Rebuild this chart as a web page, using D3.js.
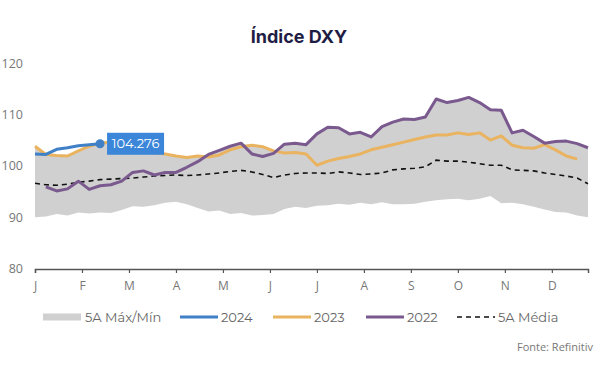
<html lang="pt-BR">
	<head>
		<title>Indice DXY</title>
		<script src='https://d3js.org/d3.v7.min.js'></script>
		<style>
			body { margin: 0; background: #ffffff; }
			text { font-family: 'Montserrat', 'Open Sans', sans-serif; }
		</style>
	</head>
	<body onload='init()'>
		<svg id="svgForChart" width=606 height=384></svg>
	</body>
	<script>
        // weekly values, week 0 = first week of January
        var months = ["J", "F", "M", "A", "M", "J", "J", "A", "S", "O", "N", "D"];
        var yTicks = [80, 90, 100, 110, 120];

        var max5y = [103.7, 102.1, 101.9, 101.8, 102.8, 103.7, 104.3, 104.5, 104.1, 103.5,
                     102.9, 102.5, 102.2, 101.8, 101.5, 101.8, 102.1, 102.9, 103.7, 104.3,
                     103.9, 103.6, 102.8, 104.1, 104.3, 104.0, 106.1, 107.4, 107.3, 106.1,
                     106.4, 105.5, 107.5, 108.4, 109.0, 108.9, 109.4, 112.9, 112.2, 112.6,
                     113.2, 112.2, 110.8, 110.7, 106.3, 106.8, 105.6, 104.3, 104.6, 104.7,
                     104.2, 103.4];
        var min5y = [90.0, 90.1, 90.6, 90.3, 90.9, 90.7, 90.9, 90.8, 91.4, 92.1,
                     92.0, 92.3, 92.8, 93.0, 92.5, 91.8, 91.1, 91.3, 90.6, 90.8,
                     90.3, 90.4, 90.6, 91.6, 92.0, 91.8, 92.2, 92.3, 92.6, 92.4,
                     92.8, 92.5, 92.9, 92.5, 92.5, 92.6, 93.0, 93.3, 93.5, 93.6,
                     93.3, 93.6, 94.1, 92.7, 92.8, 92.5, 92.0, 91.5, 91.0, 90.9,
                     90.3, 90.0];
        var avg5y = [96.6, 96.3, 96.2, 96.4, 96.8, 97.0, 97.3, 97.4, 97.5, 97.6,
                     97.8, 98.0, 98.1, 98.2, 98.1, 98.2, 98.4, 98.6, 98.9, 99.1,
                     98.8, 98.3, 97.7, 98.2, 98.5, 98.6, 98.6, 98.5, 98.8, 98.6,
                     98.3, 98.4, 98.6, 99.2, 99.4, 99.5, 99.8, 101.1, 100.9, 100.9,
                     100.7, 100.4, 100.1, 100.1, 99.2, 99.1, 99.0, 98.6, 98.3, 98.0,
                     97.6, 96.5];
        var y2022 = [null, 95.9, 95.1, 95.5, 97.0, 95.4, 96.1, 96.3, 97.0, 98.7,
                     99.0, 98.2, 98.7, 98.7, 99.7, 100.8, 102.2, 103.0, 103.8, 104.4,
                     102.3, 101.8, 102.4, 104.2, 104.4, 104.1, 106.2, 107.5, 107.4, 106.2,
                     106.5, 105.6, 107.6, 108.5, 109.1, 109.0, 109.5, 113.0, 112.3, 112.7,
                     113.3, 112.3, 110.9, 110.8, 106.4, 106.9, 105.7, 104.4, 104.7, 104.8,
                     104.3, 103.5];
        var y2023 = [103.8, 102.2, 102.0, 101.9, 102.9, 103.8, 104.4, 104.6, 104.2, 103.6,
                     103.0, 102.6, 102.3, 101.9, 101.6, 101.9, 101.7, 102.1, 103.1, 103.7,
                     104.0, 103.7, 102.9, 102.5, 102.6, 102.3, 100.1, 100.9, 101.4, 101.8,
                     102.3, 103.1, 103.6, 104.1, 104.6, 105.1, 105.6, 106.0, 106.0, 106.4,
                     106.1, 106.4, 105.0, 105.8, 104.0, 103.5, 103.4, 104.1, 103.1, 101.9,
                     101.3, null];
        var y2024 = [102.3, 102.2, 103.2, 103.5, 103.9, 104.1, 104.276];

        var xScale = d3.scaleLinear().domain([0, 51]).range([35, 588]);
        var yScale = d3.scaleLinear().domain([80, 120]).range([268.5, 63]);

        var colorGray = "#d0d0d0";
        var color2024 = "#3f80c6";
        var color2023 = "#e9b360";
        var color2022 = "#7a5a8e";

        function init() {
            var svg = d3.select("#svgForChart");

            // title
            svg.append("text")
              .attr("text-anchor", "middle")
              .attr("x", 299)
              .attr("y", 43)
              .attr("font-size", "18px")
              .attr("font-weight", "bold")
              .attr("fill", "#1f1d45")
              .style("font-family", "Inter, sans-serif")
              .text("Índice DXY");

            // 5 year max/min band
            svg.append("path")
              .datum(max5y)
              .attr("fill", colorGray)
              .attr("d", d3.area()
                  .x(function(d, i) { return xScale(i) })
                  .y0(function(d, i) { return yScale(min5y[i]) })
                  .y1(function(d) { return yScale(d) }));

            // year lines
            var line = d3.line()
                .defined(function(d) { return d != null })
                .x(function(d, i) { return xScale(i) })
                .y(function(d) { return yScale(d) });

            svg.append("path")
              .datum(avg5y)
              .attr("fill", "none")
              .attr("stroke", "#111")
              .attr("stroke-width", 1.6)
              .attr("stroke-dasharray", "5,4")
              .attr("d", line);

            svg.append("path")
              .datum(y2023)
              .attr("fill", "none")
              .attr("stroke", color2023)
              .attr("stroke-width", 3)
              .attr("stroke-linejoin", "round")
              .attr("d", line);

            svg.append("path")
              .datum(y2022)
              .attr("fill", "none")
              .attr("stroke", color2022)
              .attr("stroke-width", 3)
              .attr("stroke-linejoin", "round")
              .attr("d", line);

            svg.append("path")
              .datum(y2024)
              .attr("fill", "none")
              .attr("stroke", color2024)
              .attr("stroke-width", 3)
              .attr("stroke-linejoin", "round")
              .attr("d", line);

            // last 2024 value, dot and label
            var last = y2024.length - 1;
            svg.append("circle")
              .attr("cx", xScale(last))
              .attr("cy", yScale(y2024[last]))
              .attr("r", 4.5)
              .attr("fill", color2024);
            svg.append("rect")
              .attr("x", xScale(last) + 7)
              .attr("y", yScale(y2024[last]) - 11)
              .attr("width", 57)
              .attr("height", 22)
              .attr("fill", "#3b86d8");
            svg.append("text")
              .attr("text-anchor", "middle")
              .attr("x", xScale(last) + 35.5)
              .attr("y", yScale(y2024[last]) + 4.5)
              .attr("font-size", "13px")
              .attr("fill", "#ffffff")
              .text(d3.format(".3f")(y2024[last]));

            // x axis, month ticks
            var xAxis = svg.append("g")
              .attr("transform", "translate(0," + 269 + ")")
              .call(d3.axisBottom(xScale)
                      .tickValues(months.map(function(m, i) { return i * 52 / 12 }))
                      .tickFormat(function(d, i) { return months[i] })
                      .tickSizeOuter(0)
                      .tickSize(4)
                      .tickPadding(8));
            xAxis.select(".domain").attr("stroke", "#555").attr("stroke-width", 1.5);
            xAxis.selectAll(".tick line").attr("stroke", "#555").attr("stroke-width", 1.2);
            xAxis.selectAll("text")
              .attr("font-size", "12px")
              .attr("fill", "#777")
              .style("font-family", "'Open Sans', sans-serif");

            // y axis, labels only
            var yAxis = svg.append("g")
              .attr("transform", "translate(23,0)")
              .call(d3.axisLeft(yScale)
                      .tickValues(yTicks)
                      .tickSize(0)
                      .tickPadding(0));
            yAxis.select(".domain").remove();
            yAxis.selectAll("text")
              .attr("font-size", "12.5px")
              .attr("fill", "#777")
              .style("font-family", "'Open Sans', sans-serif");

            // legend
            var legendY = 317;
            var legend = svg.append("g").style("font-family", "'Open Sans', sans-serif");
            legend.append("rect")
              .attr("x", 43).attr("y", legendY - 3.5)
              .attr("width", 38).attr("height", 7)
              .attr("fill", colorGray);
            var legendLines = [
                { x: 180, color: color2024, label: "2024", dash: null, w: 3 },
                { x: 273, color: color2023, label: "2023", dash: null, w: 3 },
                { x: 366, color: color2022, label: "2022", dash: null, w: 3 },
                { x: 457, color: "#111", label: "5A Média", dash: "5,4", w: 1.6 }
            ];
            legendLines.forEach(function(l) {
                legend.append("line")
                  .attr("x1", l.x).attr("x2", l.x + 38)
                  .attr("y1", legendY).attr("y2", legendY)
                  .attr("stroke", l.color)
                  .attr("stroke-width", l.w)
                  .attr("stroke-dasharray", l.dash);
                legend.append("text")
                  .attr("x", l.x + 41)
                  .attr("y", legendY + 4.5)
                  .attr("font-size", "13px")
                  .attr("fill", "#666")
                  .text(l.label);
            });
            legend.append("text")
              .attr("x", 85)
              .attr("y", legendY + 4.5)
              .attr("font-size", "13px")
              .attr("fill", "#666")
              .text("5A Máx/Mín");

            // source
            svg.append("text")
              .attr("text-anchor", "end")
              .attr("x", 593)
              .attr("y", 351)
              .attr("font-size", "11px")
              .attr("fill", "#777")
              .style("font-family", "'Open Sans', sans-serif")
              .text("Fonte: Refinitiv");
		}
	</script>
</html>
